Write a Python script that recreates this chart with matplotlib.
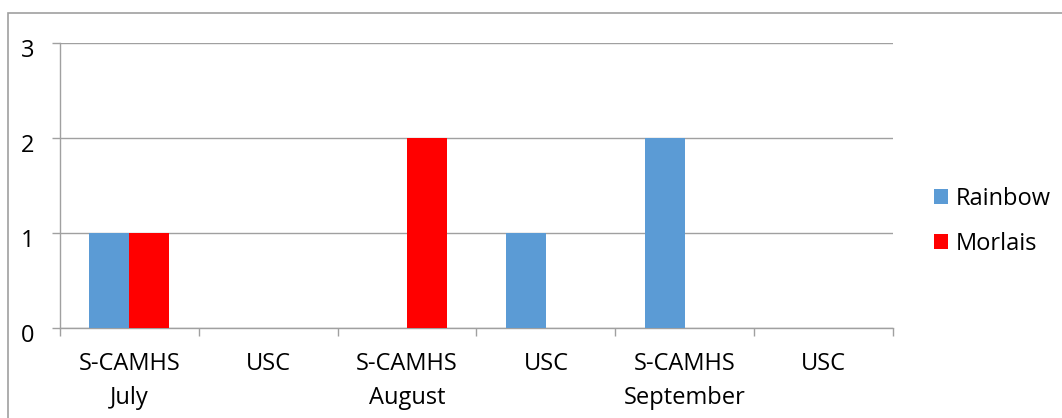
import matplotlib
matplotlib.use("Agg")
import matplotlib.pyplot as plt
from matplotlib.patches import Rectangle
from matplotlib.transforms import ScaledTranslation
import numpy as np

categories = ["S-CAMHS\nJuly", "USC", "S-CAMHS\nAugust", "USC", "S-CAMHS\nSeptember", "USC"]
series_names = ["Rainbow", "Morlais"]
rainbow = [1, 0, 0, 1, 2, 0]
morlais = [1, 0, 2, 0, 0, 0]
colors = ["#5B9BD5", "#FF0000"]
yticks = [0, 1, 2, 3]

plt.rcParams['font.family'] = ['Open Sans', 'DejaVu Sans']
W, H = 1062, 418
fig = plt.figure(figsize=(W/100, H/100), dpi=100)
grey = "#A0A0A0"
FS = 17

# outer chart border (only top/left visible)
fig.patches.append(Rectangle((8/W, -0.2), 1.2, 1.2 - 13/H, transform=fig.transFigure,
                             fill=False, edgecolor=grey, linewidth=1.2))

x0, x1, ytop, ybot = 60, 893, 43, 328
ax = fig.add_axes([x0/W, 1 - ybot/H, (x1 - x0)/W, (ybot - ytop)/H])
n = len(categories)
centers = np.arange(n) + 0.5
bw = 0.288
ax.bar(centers - bw/2, rainbow, width=bw, color=colors[0], label=series_names[0], zorder=3)
ax.bar(centers + bw/2, morlais, width=bw, color=colors[1], label=series_names[1], zorder=3)

ax.set_xlim(0, n)
ax.set_ylim(0, 3)
ax.set_yticks(yticks)
ax.set_yticklabels([str(v) for v in yticks], fontsize=FS)
ax.yaxis.grid(True, color=grey, linewidth=1.0, zorder=0)
ax.set_axisbelow(True)

ax.set_xticks(np.arange(n + 1))
ax.set_xticklabels([])
ax.set_xticks(centers, minor=True)
ax.set_xticklabels(categories, minor=True, fontsize=FS)
ax.tick_params(axis='x', which='major', length=8*0.72, width=1.0, color=grey, direction='out')
ax.tick_params(axis='x', which='minor', length=0, pad=17)
ax.tick_params(axis='y', length=8*0.72, width=1.0, color=grey, pad=13)
for lbl in ax.get_xticklabels(minor=True):
    lbl.set_linespacing(1.55)
shift = ScaledTranslation(0, -5/100, fig.dpi_scale_trans)
for lbl in ax.get_yticklabels():
    lbl.set_transform(lbl.get_transform() + shift)

for s in ['top', 'right']:
    ax.spines[s].set_visible(False)
for s in ['left', 'bottom']:
    ax.spines[s].set_color(grey)
    ax.spines[s].set_linewidth(1.0)

leg = ax.legend(loc='upper left', bbox_to_anchor=(934/W, 1 - 187/H), bbox_transform=fig.transFigure,
                frameon=False, fontsize=FS, handlelength=0.6, handleheight=0.6,
                handletextpad=0.3, labelspacing=0.9, borderpad=0, borderaxespad=0)

fig.savefig("out.png", dpi=100)
